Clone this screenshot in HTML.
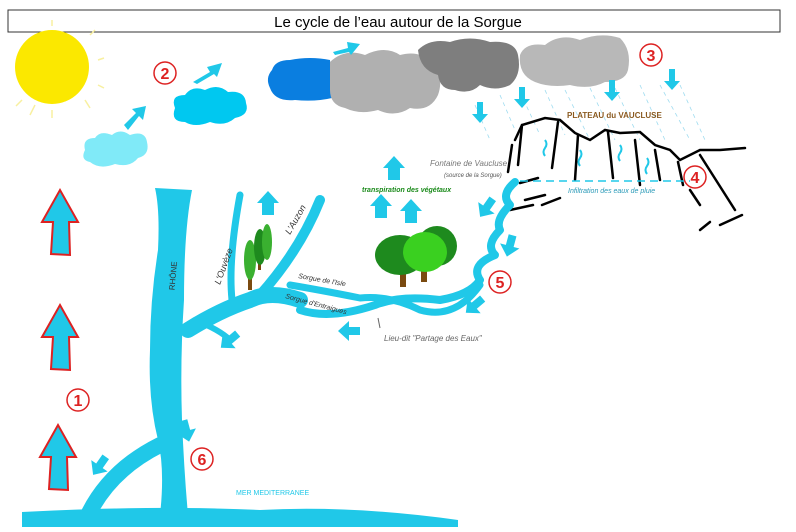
<!DOCTYPE html>
<html><head><meta charset="utf-8"><style>
html,body{margin:0;padding:0;background:#fff;width:796px;height:532px;overflow:hidden}
svg{display:block}
</style></head><body>
<svg width="796" height="532" viewBox="0 0 796 532" xmlns="http://www.w3.org/2000/svg" font-family="Liberation Sans, sans-serif">
<defs>
<g id="ua"><path d="M-6,12 L-6,0 L-11,0 L0,-12 L11,0 L6,0 L6,12 Z" fill="#20c8e8"/></g>
<g id="bigup"><path d="M-9,32 L-7,0 L-18,0 L0,-32 L18,0 L9,0 L10,33 Z" fill="#20c8e8" stroke="#d22" stroke-width="2"/></g>
<g id="da"><path d="M-3,-10 L3,-10 L3,2 L8,2 L0,11 L-8,2 L-3,2 Z" fill="#20c8e8"/></g>
<g id="fa"><path d="M-4,-10 L4,-10 L4,1 L10,1 L0,12 L-10,1 L-4,1 Z" fill="#20c8e8"/></g>
</defs>
<rect x="8" y="10" width="772" height="22" fill="#fff" stroke="#333" stroke-width="1"/>
<text x="398" y="27" font-size="15" text-anchor="middle" fill="#000">Le cycle de l’eau autour de la Sorgue</text>

<g stroke="#f8f0a0" stroke-width="1.5">
<line x1="52" y1="20" x2="52" y2="26"/><line x1="90" y1="35" x2="95" y2="30"/><line x1="98" y1="60" x2="104" y2="58"/><line x1="98" y1="85" x2="104" y2="88"/><line x1="85" y1="100" x2="90" y2="108"/><line x1="52" y1="110" x2="52" y2="118"/><line x1="22" y1="100" x2="16" y2="106"/><line x1="35" y1="105" x2="30" y2="115"/>
</g>
<circle cx="52" cy="67" r="37" fill="#fbe800"/>

<path d="M85,150 Q82,138 95,138 Q100,130 112,135 Q120,128 130,135 Q145,130 147,142 Q150,155 138,158 Q130,168 115,164 Q100,170 90,162 Q80,160 85,150Z" fill="#80eaf8"/>
<path d="M175,108 Q170,95 185,95 Q192,85 205,90 Q218,83 228,92 Q245,90 246,103 Q250,115 235,118 Q225,127 210,122 Q195,128 185,122 Q170,122 175,108Z" fill="#00c8f0"/>
<path d="M272,70 Q275,60 290,60 Q310,56 330,60 L332,98 Q315,102 295,100 Q275,102 270,88 Q265,78 272,70Z" fill="#0a7ee0"/>
<path d="M330,62 Q345,48 365,55 Q385,45 400,55 Q420,50 430,62 Q445,75 438,95 Q430,112 410,108 Q395,118 378,110 Q360,115 345,108 Q330,105 330,90Z" fill="#b0b0b0"/>
<path d="M418,50 Q430,38 450,42 Q470,35 490,42 Q515,40 518,55 Q522,75 510,85 Q495,92 480,85 Q470,95 455,90 Q440,90 438,75 Q420,70 418,50Z" fill="#7e7e7e"/>
<path d="M520,55 Q525,42 545,45 Q560,33 580,40 Q600,32 620,38 Q632,50 628,70 Q625,82 605,82 Q590,90 570,85 Q550,88 535,82 Q518,75 520,55Z" fill="#b8b8b8"/>

<path d="M124,125 L136,113 L132,109 L146,106 L143,120 L139,116 L128,130Z" fill="#20c8e8"/>
<path d="M193,82 L210,72 L207,67 L222,63 L217,77 L214,74 L197,84Z" fill="#20c8e8"/>
<path d="M333,52 L348,48 L347,42 L360,44 L351,55 L349,52 L335,55Z" fill="#20c8e8"/>

<g stroke="#9fdcf0" stroke-width="0.8" stroke-dasharray="4,4">
<line x1="500" y1="95" x2="515" y2="130"/><line x1="520" y1="92" x2="540" y2="135"/><line x1="545" y1="90" x2="565" y2="135"/><line x1="565" y1="90" x2="590" y2="140"/><line x1="590" y1="88" x2="615" y2="140"/><line x1="615" y1="88" x2="640" y2="140"/><line x1="640" y1="85" x2="665" y2="140"/><line x1="660" y1="85" x2="690" y2="140"/><line x1="680" y1="85" x2="705" y2="140"/><line x1="475" y1="105" x2="490" y2="140"/>
</g>
<use href="#da" x="480" y="112"/><use href="#da" x="522" y="97"/><use href="#da" x="612" y="90"/><use href="#da" x="672" y="79"/>

<g stroke="#000" stroke-width="2.5" fill="none" stroke-linecap="round">
<path d="M515,140 L522,125 L545,118 L560,120 L575,133 L590,140 L605,130 L620,133 L640,132 L655,145 L670,150 L680,160 L700,150 L720,150 L745,148"/>
<path d="M522,125 L518,165"/><path d="M512,145 L508,172"/><path d="M558,122 L552,168"/><path d="M578,135 L575,180"/><path d="M608,132 L613,178"/><path d="M635,140 L640,185"/><path d="M655,150 L660,180"/><path d="M678,162 L683,185"/><path d="M700,155 L735,210"/><path d="M690,190 L700,205"/>
<path d="M520,183 L538,178"/><path d="M525,200 L545,195"/><path d="M510,210 L533,205"/><path d="M542,205 L560,198"/><path d="M720,225 L742,215"/><path d="M700,230 L710,222"/>
</g>
<text x="567" y="118" font-size="8" font-weight="bold" fill="#8a5a20">PLATEAU du VAUCLUSE</text>
<g stroke="#20c8e8" stroke-width="2" fill="none"><path d="M545,140 q3,4 0,8 q-3,4 0,8"/><path d="M580,150 q3,4 0,8 q-3,4 0,8"/><path d="M620,145 q3,4 0,8 q-3,4 0,8"/><path d="M647,158 q3,4 0,8 q-3,4 0,8"/></g>
<line x1="520" y1="181" x2="690" y2="181" stroke="#20c8e8" stroke-width="1.5" stroke-dasharray="8,5"/>
<text x="568" y="193" font-size="7" font-style="italic" fill="#2a9ab8">Infiltration des eaux de pluie</text>
<text x="430" y="166" font-size="8" font-style="italic" fill="#777">Fontaine de Vaucluse</text>
<text x="444" y="177" font-size="6" font-style="italic" fill="#555">(source de la Sorgue)</text>
<text x="362" y="192" font-size="7" font-style="italic" font-weight="bold" fill="#1a8a1a">transpiration des végétaux</text>
<use href="#ua" x="394" y="168"/><use href="#ua" x="381" y="206"/><use href="#ua" x="411" y="211"/><use href="#ua" x="268" y="203"/>

<g fill="none" stroke="#20c8e8" stroke-linecap="round" stroke-linejoin="round">
<path d="M515,182 Q500,195 510,205 Q495,220 500,230 Q485,245 495,255 Q470,265 480,280 Q470,295 440,300 Q400,295 375,305 Q330,320 300,310" stroke-width="8"/>
<path d="M480,285 Q455,320 420,310 Q390,295 360,298 Q320,290 290,285" stroke-width="7"/>
<path d="M300,300 Q270,290 250,300 Q220,310 188,330" stroke-width="16"/>
<path d="M260,295 Q300,250 320,200" stroke-width="10"/>
<path d="M232,300 Q228,260 240,195" stroke-width="7"/>
<path d="M195,320 Q220,330 230,340" stroke-width="6"/>
<path d="M160,445 Q110,470 88,515" stroke-width="16"/>
</g>
<path d="M155,188 L192,190 Q184,230 184,300 Q180,360 182,420 Q184,470 188,515 L160,515 Q165,470 158,440 Q148,400 150,350 Q150,300 158,250 Q160,210 155,188Z" fill="#20c8e8"/>
<path d="M22,512 Q150,505 260,510 Q350,505 458,520 L458,527 L22,527Z" fill="#20c8e8"/>
<text x="236" y="495" font-size="7" fill="#20c8e8">MER MEDITERRANEE</text>
<text x="165" y="290" font-size="8" fill="#333" transform="rotate(-85 170 285)">RHÔNE</text>
<text x="220" y="285" font-size="9" font-style="italic" fill="#333" transform="rotate(-70 220 285)">L'Ouvèze</text>
<text x="290" y="235" font-size="9" font-style="italic" fill="#333" transform="rotate(-60 290 235)">L'Auzon</text>
<text x="298" y="278" font-size="7" font-style="italic" fill="#333" transform="rotate(10 298 278)">Sorgue de l'Isle</text>
<text x="285" y="298" font-size="7" font-style="italic" fill="#333" transform="rotate(15 285 298)">Sorgue d'Entraigues</text>
<text x="384" y="341" font-size="8" font-style="italic" fill="#666">Lieu-dit "Partage des Eaux"</text>
<line x1="380" y1="328" x2="378" y2="318" stroke="#666"/>

<rect x="248" y="270" width="4" height="20" fill="#7a4a10"/><ellipse cx="250" cy="260" rx="6" ry="20" fill="#3ab030"/>
<rect x="258" y="255" width="3" height="15" fill="#7a4a10"/><ellipse cx="260" cy="247" rx="6" ry="18" fill="#1e8a1e"/>
<ellipse cx="267" cy="242" rx="5" ry="18" fill="#3ab030"/>
<rect x="400" y="265" width="6" height="22" fill="#7a4a10"/><rect x="421" y="265" width="6" height="17" fill="#7a4a10"/>
<ellipse cx="400" cy="255" rx="25" ry="20" fill="#1e8a1e"/><ellipse cx="437" cy="246" rx="20" ry="20" fill="#1e8a1e"/><ellipse cx="425" cy="252" rx="22" ry="20" fill="#3ad020"/>

<use href="#fa" transform="translate(487,207) rotate(35)"/>
<use href="#fa" transform="translate(510,245) rotate(15)"/>
<use href="#fa" transform="translate(475,305) rotate(50)"/>
<use href="#fa" transform="translate(350,331) rotate(90)"/>
<use href="#fa" transform="translate(230,340) rotate(50)"/>
<use href="#fa" transform="translate(186,430) rotate(-15)"/>
<use href="#fa" transform="translate(100,465) rotate(35)"/>

<use href="#bigup" x="60" y="222"/><use href="#bigup" x="60" y="337"/><use href="#bigup" x="58" y="457"/>

<g fill="none" stroke="#d22" stroke-width="1.5"><circle cx="78" cy="400" r="11"/><circle cx="165" cy="73" r="11"/><circle cx="651" cy="55" r="11"/><circle cx="695" cy="177" r="11"/><circle cx="500" cy="282" r="11"/><circle cx="202" cy="459" r="11"/></g>
<g fill="#d22" font-size="16" font-weight="bold" text-anchor="middle"><text x="78" y="406">1</text><text x="165" y="79">2</text><text x="651" y="61">3</text><text x="695" y="183">4</text><text x="500" y="288">5</text><text x="202" y="465">6</text></g>
</svg>
</body></html>
